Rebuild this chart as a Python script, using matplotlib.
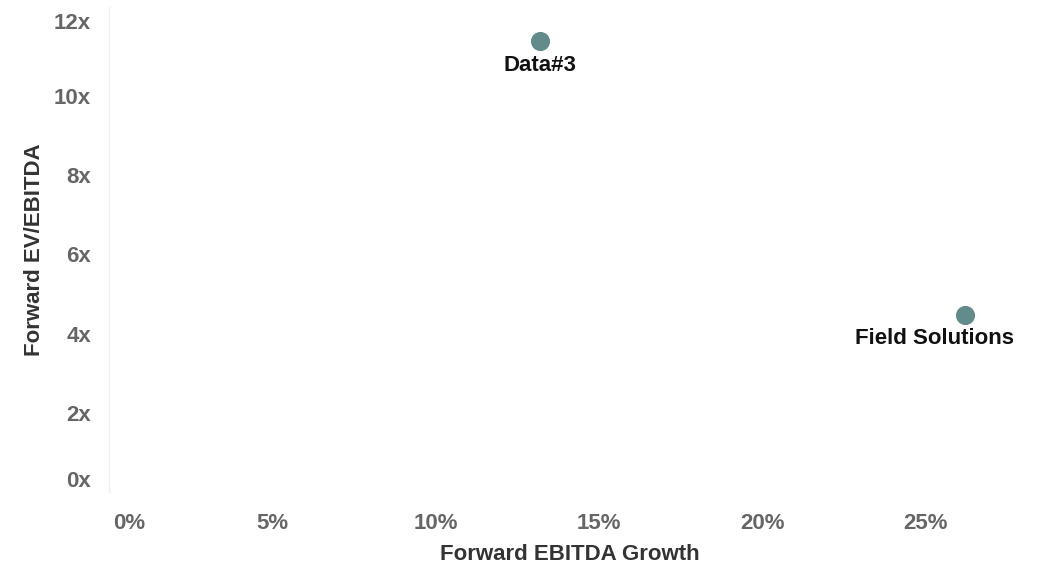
import matplotlib.pyplot as plt
import matplotlib.transforms as mtransforms

plt.rcParams['font.family'] = ['Liberation Sans', 'DejaVu Sans']

# data
names = ['Data#3', 'Field Solutions']
growth = [13.2, 26.2]        # forward EBITDA growth, %
multiple = [11.4, 4.47]      # forward EV/EBITDA, x

x_ticks = [0, 5, 10, 15, 20, 25]
y_ticks = [0, 2, 4, 6, 8, 10, 12]

fig = plt.figure(figsize=(10.42, 5.66), dpi=100)
ax = fig.add_axes([109/1042, 74/566, 921/1042, 485/566])

ax.scatter(growth, multiple, s=190, color='#628c8c', zorder=3, linewidths=0)

# point labels (below the point)
ax.annotate(names[0], (growth[0], multiple[0]), xytext=(0, -18), textcoords='offset points',
            ha='center', va='center', fontsize=16, fontweight='bold', color='#111111')
ax.annotate(names[1], (growth[1], multiple[1]), xytext=(-22, -17), textcoords='offset points',
            ha='center', va='center', fontsize=16, fontweight='bold', color='#111111')

ax.set_xlim(0, 28.2)
ax.set_ylim(0, 12.25)

ax.set_xticks(x_ticks)
ax.set_xticklabels([f'{t}%' for t in x_ticks])
ax.set_yticks(y_ticks)
ax.set_yticklabels([f'{t}x' for t in y_ticks])

ax.tick_params(length=0, labelsize=16, labelcolor='#666666')
ax.tick_params(axis='x', pad=15)
ax.tick_params(axis='y', pad=13)
for lab in ax.get_xticklabels() + ax.get_yticklabels():
    lab.set_fontweight('bold')

# first/last labels kept inside the plot area
def shift(lab, dx, dy):
    lab.set_transform(lab.get_transform()
                      + mtransforms.ScaledTranslation(dx/100, dy/100, fig.dpi_scale_trans))

ax.get_xticklabels()[0].set_horizontalalignment('left')
shift(ax.get_xticklabels()[0], 4, 0)
ax.get_yticklabels()[0].set_verticalalignment('bottom')
shift(ax.get_yticklabels()[-1], 0, -4)

for side in ['top', 'right', 'bottom']:
    ax.spines[side].set_visible(False)
ax.spines['left'].set_color('#eeeeee')
ax.spines['left'].set_linewidth(1)

ax.set_xlabel('Forward EBITDA Growth', fontsize=16, fontweight='bold', color='#333333', labelpad=7)
ax.set_ylabel('Forward EV/EBITDA', fontsize=16, fontweight='bold', color='#333333', labelpad=6)

fig.savefig('out.png', dpi=100)
